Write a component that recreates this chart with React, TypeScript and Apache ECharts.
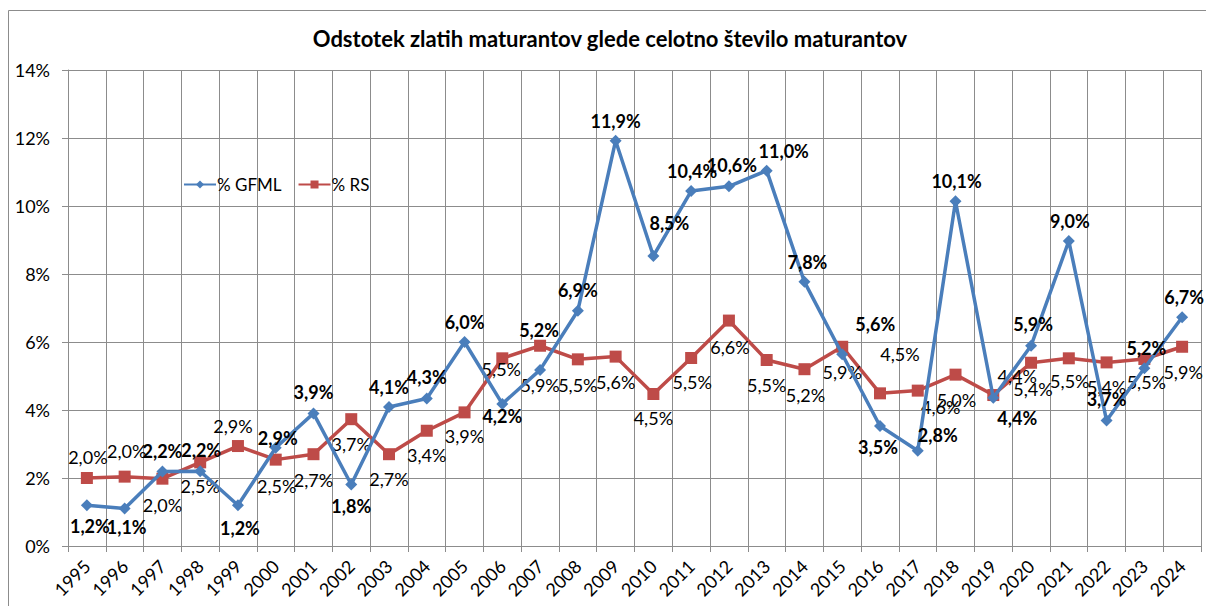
import React, { useEffect, useRef } from "react";
import * as echarts from "echarts";

const years = [
  "1995", "1996", "1997", "1998", "1999", "2000", "2001", "2002", "2003", "2004",
  "2005", "2006", "2007", "2008", "2009", "2010", "2011", "2012", "2013", "2014",
  "2015", "2016", "2017", "2018", "2019", "2020", "2021", "2022", "2023", "2024",
];

const gfml = [
  1.2, 1.1, 2.19, 2.2, 1.2, 2.89, 3.9, 1.81, 4.09, 4.34,
  6.0, 4.18, 5.18, 6.92, 11.92, 8.53, 10.44, 10.58, 11.04, 7.77,
  5.64, 3.53, 2.8, 10.14, 4.36, 5.89, 8.97, 3.69, 5.23, 6.73,
];

const rs = [
  2.0, 2.04, 1.98, 2.46, 2.94, 2.54, 2.7, 3.73, 2.7, 3.39,
  3.93, 5.52, 5.89, 5.49, 5.57, 4.47, 5.53, 6.63, 5.47, 5.2,
  5.86, 4.49, 4.57, 5.04, 4.44, 5.39, 5.52, 5.4, 5.5, 5.86,
];

const yTicks = [0, 2, 4, 6, 8, 10, 12, 14];

// label offsets (dx, dy) relative to the marker centre
const gfmlLabelOffsets = [
  [3, 21], [2, 18], [0, -21], [1, -21], [2, 23], [2, -10], [0, -21], [0, 22], [0, -20], [0, -21],
  [0, -20], [0, 12], [-1, -40], [0, -21], [0, -20], [16, -33], [1, -20], [3, -21], [17, -20], [3, -20],
  [33, -30], [-2, 21], [20, -16], [1, -20], [24, 20], [2, -22], [1, -20], [0, -22], [2, -20], [2, -20],
];

const rsLabelOffsets = [
  [1, -21], [2, -26], [0, 26], [0, 24], [-5, -20], [1, 26], [0, 26], [0, 25], [0, 25], [0, 24],
  [0, 24], [-1, 11], [0, 39], [0, 26], [0, 25], [0, 24], [1, 24], [1, 26], [0, 25], [1, 26],
  [0, 25], [20, -39], [23, 16], [1, 25], [24, -19], [2, 26], [1, 23], [0, 25], [2, 23], [1, 25],
];

const FONT = "Lato";
const GRID = "#8c8c8c";
const BLUE = "#4a7ebb";
const RED = "#be4b48";

const fmt = (v: number) => v.toFixed(1).replace(".", ",") + "%";

export default function App() {
  const ref = useRef<HTMLDivElement>(null);

  useEffect(() => {
    if (!ref.current) return;
    const chart = echarts.init(ref.current, undefined, { renderer: "svg" });

    const mkData = (vals: number[], offs: number[][], bold: boolean) =>
      vals.map((v, i) => ({
        value: v,
        label: {
          show: true,
          position: "inside",
          offset: offs[i],
          formatter: () => fmt(v),
          fontFamily: FONT,
          fontSize: 18,
          fontWeight: bold ? "bold" : "normal",
          color: "#000",
        },
      }));

    chart.setOption({
      animation: false,
      backgroundColor: "#fff",
      textStyle: { fontFamily: FONT },
      graphic: [
        {
          type: "rect",
          shape: { x: 8.5, y: 10.5, width: 1300, height: 700 },
          style: { fill: "none", stroke: "#8c8c8c", lineWidth: 1 },
          z: 0,
        },
        {
          type: "text",
          x: 610,
          y: 38,
          style: {
            text: "Odstotek zlatih maturantov glede celotno število maturantov",
            fontFamily: FONT,
            fontSize: 22,
            fontWeight: "bold",
            fill: "#000",
            align: "center",
            verticalAlign: "middle",
          },
        },
      ],
      legend: {
        left: 178,
        top: 171,
        itemWidth: 32,
        itemHeight: 10,
        itemGap: 16,
        textStyle: { fontFamily: FONT, fontSize: 17, color: "#000", padding: [0, 0, 0, -4] },
        data: ["% GFML", "% RS"],
      },
      grid: { left: 68, top: 70, width: 1133, height: 476, containLabel: false },
      xAxis: {
        type: "category",
        data: years,
        boundaryGap: true,
        axisLine: { show: true, lineStyle: { color: GRID, width: 1 } },
        axisTick: { show: true, length: 6, alignWithLabel: false, lineStyle: { color: GRID } },
        splitLine: { show: true, interval: 0, lineStyle: { color: GRID, width: 1 } },
        axisLabel: {
          interval: 0,
          rotate: 45,
          margin: 17,
          fontFamily: FONT,
          fontSize: 18,
          color: "#000",
        },
      },
      yAxis: {
        type: "value",
        min: yTicks[0],
        max: yTicks[yTicks.length - 1],
        interval: 2,
        axisLine: { show: true, lineStyle: { color: GRID, width: 1 } },
        axisTick: { show: true, length: 6, lineStyle: { color: GRID } },
        splitLine: { show: true, lineStyle: { color: GRID, width: 1 } },
        axisLabel: {
          formatter: "{value}%",
          margin: 18,
          fontFamily: FONT,
          fontSize: 18,
          color: "#000",
        },
      },
      series: [
        {
          name: "% GFML",
          type: "line",
          data: mkData(gfml, gfmlLabelOffsets, true),
          symbol: "diamond",
          symbolSize: 12,
          itemStyle: { color: BLUE },
          lineStyle: { color: BLUE, width: 3.5 },
          z: 3,
        },
        {
          name: "% RS",
          type: "line",
          data: mkData(rs, rsLabelOffsets, false),
          symbol: "rect",
          symbolSize: 12,
          itemStyle: { color: RED },
          lineStyle: { color: RED, width: 3.5 },
          z: 2,
        },
      ],
    });

    return () => chart.dispose();
  }, []);

  return (
    <div
      ref={ref}
      style={{ position: "fixed", left: 0, top: 0, width: 1206, height: 606 }}
    />
  );
}
